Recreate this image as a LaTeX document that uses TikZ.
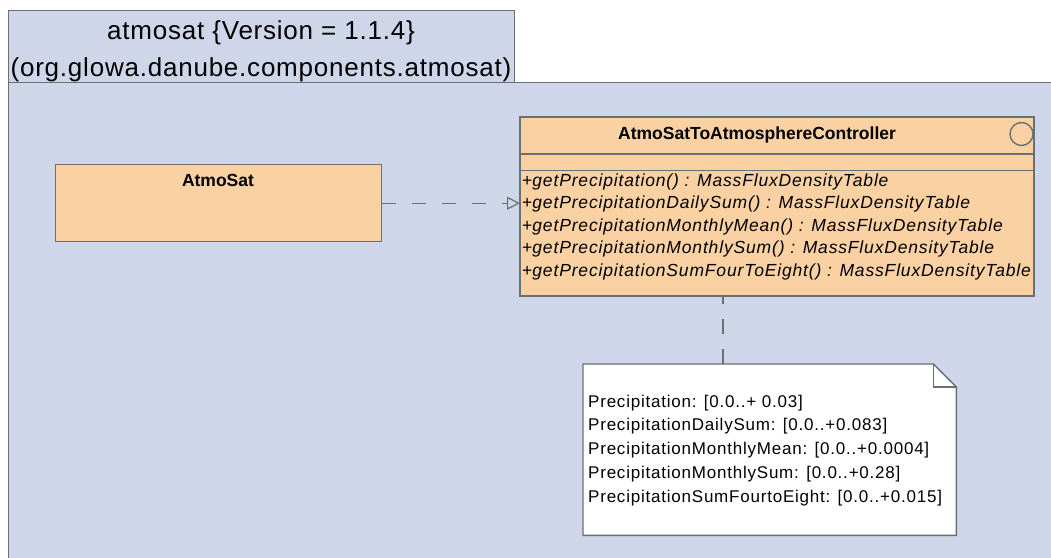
\documentclass[tikz,border=0pt]{standalone}
\usepackage{fontspec}
\setmainfont{Liberation Sans}
\newfontfamily\tabfont[LetterSpace=3]{Liberation Sans}
\newfontfamily\methfont[LetterSpace=4.8]{Liberation Sans}
\newfontfamily\notefont[LetterSpace=4.6]{Liberation Sans}
\usetikzlibrary{arrows.meta}
\definecolor{pkgfill}{RGB}{207,214,233}
\definecolor{clsfill}{RGB}{250,209,163}
\definecolor{edgecol}{RGB}{104,112,116}
\begin{document}
\begin{tikzpicture}[x=1pt,y=-1pt,
  boxbase/.style={draw=edgecol, line width=1.4pt, inner sep=0pt, anchor=north west},
  pkgbox/.style={boxbase, fill=pkgfill},
  clsbox/.style={boxbase, fill=clsfill},
  edgeline/.style={draw=edgecol, line width=1.4pt},
  tabtext/.style={inner sep=0pt, anchor=base, font=\tabfont\fontsize{26}{30}\selectfont},
  nametext/.style={inner sep=0pt, font=\bfseries\fontsize{17.5}{20}\selectfont},
  methtext/.style={inner sep=0pt, anchor=base west, font=\methfont\fontsize{17.5}{20}\selectfont},
  notetext/.style={inner sep=0pt, anchor=base west, font=\notefont\fontsize{17}{20}\selectfont},
  deparrow/.style={edgeline, line width=1.2pt, dash pattern=on 14pt off 16pt,
    -{Triangle[open, length=13pt, width=13pt]}},
  notelink/.style={edgeline, line width=1.2pt, dash pattern=on 15pt off 15pt}
]
\useasboundingbox (0,0) rectangle (1051,557);
\clip (0,0) rectangle (1051,557);
\fill[white] (0,0) rectangle (1051,557);

% package
\node[pkgbox, minimum width=506pt, minimum height=72pt] (tab) at (8,10) {};
\node[pkgbox, minimum width=1060pt, minimum height=500pt] (body) at (8,82) {};
\node[tabtext] (tab1) at (261,39.5) {atmosat \{Version = 1.1.4\}};
\node[tabtext] (tab2) at (261,76) {(org.glowa.danube.components.atmosat)};

% AtmoSat class
\node[clsbox, minimum width=326pt, minimum height=77pt] (sat) at (55,164) {};
\node[nametext, anchor=base] (satname) at (218,186) {AtmoSat};

% Controller class
\node[clsbox, minimum width=513pt, minimum height=178pt] (ctrl) at (520,117) {};
\node[nametext, anchor=base west] (ctrlname) at (618,139) {AtmoSatToAtmosphereController};
\draw[edgeline] (ctrl.west |- 0,154) -- (ctrl.east |- 0,154);
\draw[edgeline] (ctrl.west |- 0,170.5) -- (ctrl.east |- 0,170.5);
\begin{scope}
  \clip (ctrl.north west) rectangle (ctrl.south east);
  \draw[edgeline] (1021.5,134) circle[radius=11.5pt];
\end{scope}
\draw[edgeline] (ctrl.north west) rectangle (ctrl.south east);
\node[methtext] (m1) at (522,186) {+\textit{getPrecipitation() : MassFluxDensityTable}};
\node[methtext] (m2) at (522,208.5) {+\textit{getPrecipitationDailySum() : MassFluxDensityTable}};
\node[methtext] (m3) at (522,231) {+\textit{getPrecipitationMonthlyMean() : MassFluxDensityTable}};
\node[methtext] (m4) at (522,253.5) {+\textit{getPrecipitationMonthlySum() : MassFluxDensityTable}};
\node[methtext] (m5) at (522,276) {+\textit{getPrecipitationSumFourToEight() : MassFluxDensityTable}};

% dependency
\draw[deparrow] (sat.east) -- (sat.east -| ctrl.west);

% note
\node[inner sep=0pt, minimum width=373pt, minimum height=171pt, anchor=north west] (note) at (583,364) {};
\draw[edgeline, fill=white] (note.north west) -- ([xshift=-23pt]note.north east)
  -- ([yshift=-23pt]note.north east) -- (note.south east) -- (note.south west) -- cycle;
\draw[edgeline] ([xshift=-23pt]note.north east) -- ([xshift=-23pt,yshift=-23pt]note.north east)
  -- ([yshift=-23pt]note.north east);
\node[notetext] (n1) at (588,407) {Precipitation: [0.0..+ 0.03]};
\node[notetext] (n2) at (588,430.75) {PrecipitationDailySum: [0.0..+0.083]};
\node[notetext] (n3) at (588,454.5) {PrecipitationMonthlyMean: [0.0..+0.0004]};
\node[notetext] (n4) at (588,478.25) {PrecipitationMonthlySum: [0.0..+0.28]};
\node[notetext] (n5) at (588,502) {PrecipitationSumFourtoEight: [0.0..+0.015]};

% note link
\path (note.north west) ++(140pt,0) coordinate (nl);
\draw[notelink] (nl) -- (nl |- ctrl.south);
\end{tikzpicture}
\end{document}
